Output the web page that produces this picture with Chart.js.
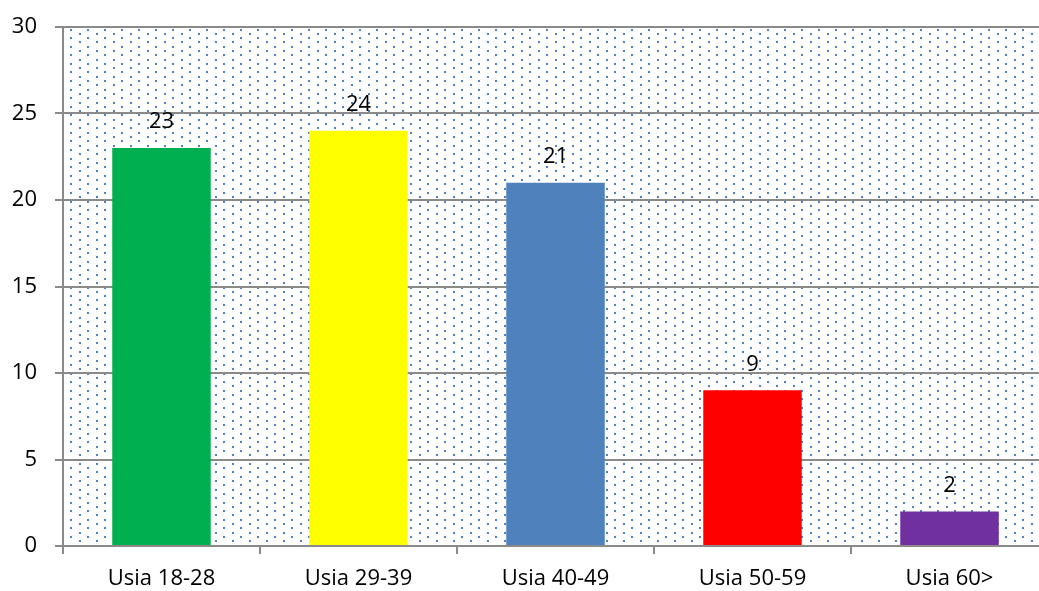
<!DOCTYPE html>
<html>
<head>
<meta charset="utf-8">
<script src="https://cdn.jsdelivr.net/npm/chart.js@4/dist/chart.umd.min.js"></script>
<style>
  html, body { margin: 0; padding: 0; background: #fff; overflow: hidden; }
  #wrap { width: 1039px; height: 591px; overflow: hidden; }
</style>
</head>
<body>
<div id="wrap"><canvas id="ageChart" width="1050" height="591"></canvas></div>
<script>
// values
var categories = ['Usia 18-28', 'Usia 29-39', 'Usia 40-49', 'Usia 50-59', 'Usia 60>'];
var counts = [23, 24, 21, 9, 2];
var barColors = ['#00b050', '#ffff00', '#4f81bd', '#ff0000', '#7030a0'];
var yTicks = [0, 5, 10, 15, 20, 25, 30];

var FONT = '"Open Sans", "Noto Sans", sans-serif';
var GRID = '#8a8a8a';

// white background with the small blue dotted fill behind the bars
var dotsPlugin = {
  id: 'dots',
  beforeDraw: function(chart) {
    var ctx = chart.ctx;
    var a = chart.chartArea;
    ctx.save();
    ctx.fillStyle = '#fff';
    ctx.fillRect(0, 0, chart.width, chart.height);
    ctx.beginPath();
    ctx.rect(a.left, a.top, a.right - a.left, a.bottom - a.top);
    ctx.clip();
    ctx.fillStyle = '#4f82c2';
    var row = 0;
    for (var y = a.top + 1.5; y < a.bottom; y += 4.3) {
      var off = (row % 2) ? 8.5 : 0;
      for (var x = a.left + 7 + off; x < a.right; x += 17) {
        ctx.fillRect(Math.round(x), Math.round(y), 2, 2);
      }
      row++;
    }
    ctx.restore();
  }
};

// value labels above each bar
var valueLabels = {
  id: 'valueLabels',
  afterDatasetsDraw: function(chart) {
    var ctx = chart.ctx;
    var meta = chart.getDatasetMeta(0);
    ctx.save();
    ctx.font = '22px ' + FONT;
    ctx.fillStyle = '#000';
    ctx.textAlign = 'center';
    ctx.textBaseline = 'middle';
    meta.data.forEach(function(bar, i) {
      ctx.fillText(String(counts[i]), bar.x, bar.y - 26);
    });
    ctx.restore();
  }
};

var ctx = document.getElementById('ageChart').getContext('2d');
var myChart = new Chart(ctx, {
  type: 'bar',
  data: {
    labels: categories,
    datasets: [{
      data: counts,
      backgroundColor: barColors,
      borderWidth: 0,
      barPercentage: 0.5,
      categoryPercentage: 1
    }]
  },
  options: {
    responsive: false,
    animation: false,
    layout: { padding: { top: 27, right: 2, left: 0, bottom: 0 } },
    plugins: { legend: { display: false }, tooltip: { enabled: false } },
    scales: {
      x: {
        grid: {
          offset: true,
          drawOnChartArea: false,
          drawTicks: true,
          tickLength: 8,
          color: GRID,
          lineWidth: 2
        },
        border: { display: true, color: GRID, width: 2 },
        ticks: {
          color: '#000',
          font: { family: FONT, size: 22 },
          padding: 12,
          maxRotation: 0
        },
        afterFit: function(scale) { scale.height = 45; }
      },
      y: {
        min: 0,
        max: 30,
        afterBuildTicks: function(scale) {
          scale.ticks = yTicks.map(function(v) { return { value: v }; });
        },
        grid: {
          color: GRID,
          lineWidth: 2,
          drawTicks: true,
          tickLength: 8
        },
        border: { display: true, color: GRID, width: 2 },
        ticks: {
          color: '#000',
          font: { family: FONT, size: 22 },
          padding: 18
        },
        afterFit: function(scale) {
          scale.width = 63;
          scale.paddingTop = 0;
          scale.paddingBottom = 0;
        }
      }
    }
  },
  plugins: [dotsPlugin, valueLabels]
});
</script>
</body>
</html>
